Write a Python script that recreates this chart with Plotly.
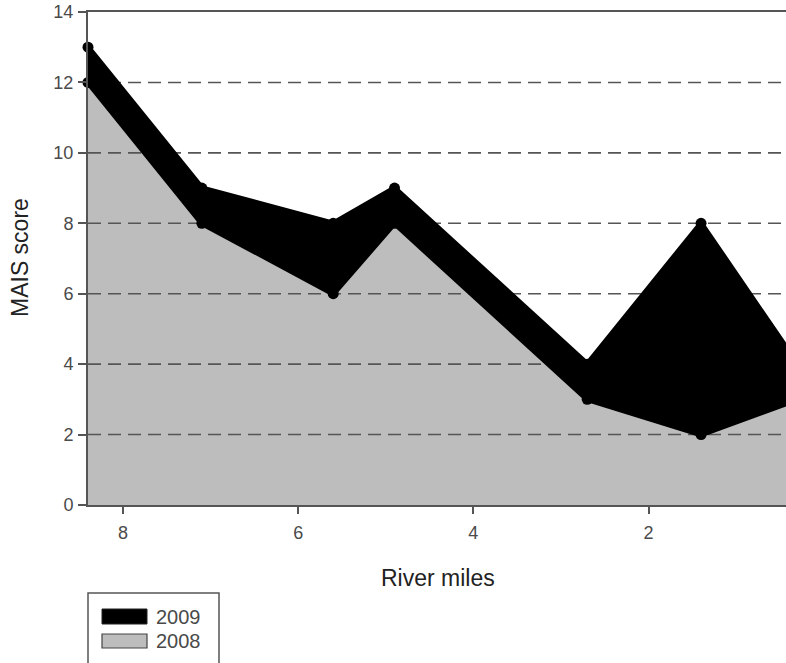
import plotly.graph_objects as go

# ---- data ----
river_miles = [8.4, 7.1, 5.6, 4.9, 2.7, 1.4, 0.3]
mais_2009 = [13, 9, 8, 9, 4, 8, 4]
mais_2008 = [12, 8, 6, 8, 3, 2, 3]
y_ticks = [0, 2, 4, 6, 8, 10, 12, 14]
x_ticks = [8, 6, 4, 2]
grid_levels = [2, 4, 6, 8, 10, 12]
x_range = [8.4, 0.43]
y_range = [0, 14]
series_names = ["2009", "2008"]

W, H = 786, 663
PL, PR, PT, PB = 88, 786, 12, 505          # plot box in window pixels
L, T, R, B = PL, PT, W - PR, H - PB
PW, PH = PR - PL, PB - PT


def px_x(p):
    return (p - PL) / PW


def px_y(p):
    return (PB - p) / PH


FONT = "Liberation Sans, Arial, sans-serif"
GREY = "#bdbdbd"
AX = "#555555"

fig = go.Figure()

# 2008 grey area
fig.add_trace(go.Scatter(x=river_miles, y=mais_2008, mode="none", fill="tozeroy",
                         fillcolor=GREY, showlegend=False, hoverinfo="skip"))

# dashed grid lines (above grey, below black)
gx, gy = [], []
for g in grid_levels:
    gx += [x_range[0], x_range[1], None]
    gy += [g, g, None]
fig.add_trace(go.Scatter(x=gx, y=gy, mode="lines",
                         line=dict(color=AX, width=1.6, dash="13px,7px"),
                         showlegend=False, hoverinfo="skip"))

# 2008 outline
fig.add_trace(go.Scatter(x=river_miles, y=mais_2008, mode="lines+markers",
                         line=dict(color="black", width=5.5),
                         marker=dict(color="black", size=11),
                         cliponaxis=False, showlegend=False, name=series_names[1]))
# 2009 black band
fig.add_trace(go.Scatter(x=river_miles, y=mais_2009, mode="lines+markers", fill="tonexty",
                         fillcolor="black", line=dict(color="black", width=5.5),
                         marker=dict(color="black", size=11),
                         cliponaxis=False, showlegend=False, name=series_names[0]))

fig.update_xaxes(range=x_range, tickvals=x_ticks, ticks="outside", ticklen=7, tickwidth=1.5,
                 tickcolor=AX, showline=True, linecolor=AX, linewidth=2, mirror=True,
                 showgrid=False, zeroline=False, ticklabelstandoff=3, automargin=False,
                 tickfont=dict(family=FONT, size=18, color="#4a4a4a"))
fig.update_yaxes(range=y_range, tickvals=y_ticks, ticks="outside", ticklen=8, tickwidth=1.5,
                 tickcolor=AX, showline=True, linecolor=AX, linewidth=2,
                 showgrid=False, zeroline=False, ticklabelstandoff=1, automargin=False,
                 ticklabeloverflow="allow",
                 tickfont=dict(family=FONT, size=18, color="#4a4a4a"))

annotations = [
    dict(text="River miles", x=px_x(438), y=px_y(578), xref="paper", yref="paper",
         showarrow=False, xanchor="center", yanchor="middle",
         font=dict(family=FONT, size=23, color="#222222")),
    dict(text="MAIS score", x=px_x(20), y=px_y(258), xref="paper", yref="paper",
         showarrow=False, xanchor="center", yanchor="middle", textangle=-90,
         font=dict(family=FONT, size=23, color="#222222")),
    dict(text=series_names[0], x=px_x(154), y=px_y(617), xref="paper", yref="paper",
         showarrow=False, xanchor="left", yanchor="middle",
         font=dict(family=FONT, size=20, color="#4a4a4a")),
    dict(text=series_names[1], x=px_x(154), y=px_y(641), xref="paper", yref="paper",
         showarrow=False, xanchor="left", yanchor="middle",
         font=dict(family=FONT, size=20, color="#4a4a4a")),
]

shapes = [
    dict(type="rect", xref="paper", yref="paper", x0=px_x(88), x1=px_x(219),
         y0=px_y(593), y1=px_y(700), line=dict(color=AX, width=1.5), fillcolor="white"),
    dict(type="rect", xref="paper", yref="paper", x0=px_x(102), x1=px_x(147),
         y0=px_y(609), y1=px_y(624), line=dict(color="#222", width=1), fillcolor="black"),
    dict(type="rect", xref="paper", yref="paper", x0=px_x(102), x1=px_x(147),
         y0=px_y(634), y1=px_y(648), line=dict(color="#444", width=1.2), fillcolor=GREY),
]

fig.update_layout(width=W, height=H, margin=dict(l=L, r=R, t=T, b=B),
                  plot_bgcolor="white", paper_bgcolor="white",
                  annotations=annotations, shapes=shapes, showlegend=False)

fig.write_html("out.html", config={"displayModeBar": False},
               post_script="document.body.style.margin='0';document.body.style.overflow='hidden';")
